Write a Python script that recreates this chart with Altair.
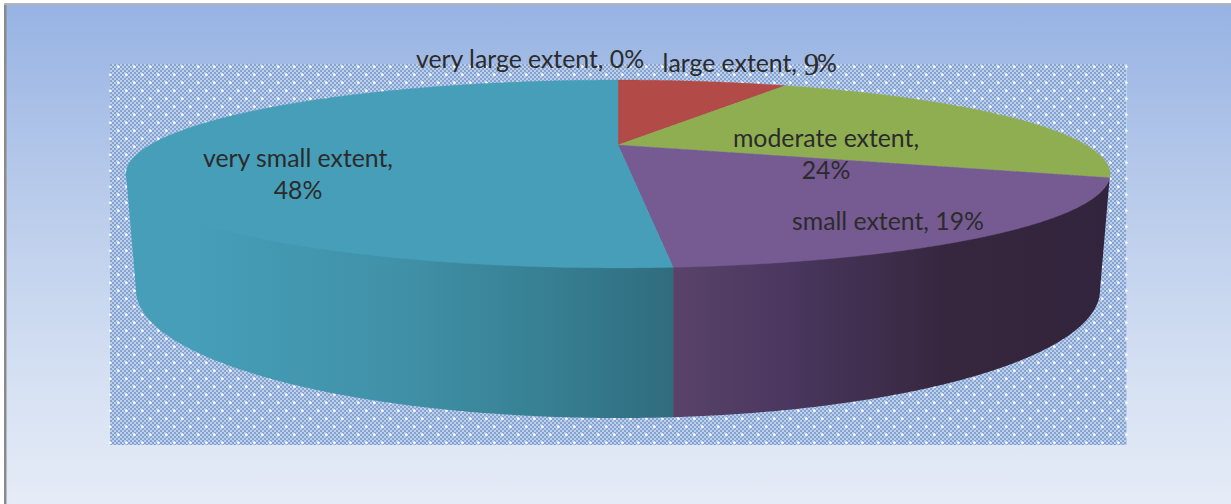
import numpy as np
import pandas as pd
import altair as alt

alt.data_transformers.disable_max_rows()

# Survey responses shown on the pie, clockwise from twelve o'clock
categories = ["very large extent", "large extent", "moderate extent", "small extent", "very small extent"]
shares = [0, 9, 24, 19, 48]
slice_colors = ["#4f81bd", "#b24a47", "#8fae51", "#765a92", "#469eb8"]

W, H = 1231, 504

# Tilted-disc geometry of the pie
CX, APEX_Y = 618.0, 145.0
TILT = 0.3085
RX, RY = 468.0, 85.0
SWEEP_BEND = (0.0461, -0.0184, 0.0156)
TOP_ELLIPSE = (618.0, 174.0, 492.0, 94.0)
TOP_UNDERLAP = (618.0, 174.0, 492.0, 90.0)
BOTTOM_ELLIPSE = (618.0, 290.0, 482.0, 128.0)


def rim_point(fraction):
    bend = sum(c * np.sin((i + 1) * np.pi * fraction) for i, c in enumerate(SWEEP_BEND))
    th = 2 * np.pi * (fraction - bend)
    den = 1 + TILT * np.cos(th)
    return CX + RX * np.sin(th) / den, APEX_Y - RY * np.cos(th) / den


def band(polygon, label):
    """Turn a polygon into x / y / y2 rows for an area mark."""
    pts = np.asarray(polygon, dtype=float)
    lo, hi = pts[:, 0].min() + 1e-4, pts[:, 0].max() - 1e-4
    xs = np.concatenate([pts[:, 0] - 1e-3, pts[:, 0] + 1e-3, [lo, hi]])
    xs = np.unique(np.clip(xs, lo, hi))
    nxt = np.roll(pts, -1, axis=0)
    rows = []
    for x in xs:
        hit = ((pts[:, 0] <= x) & (x < nxt[:, 0])) | ((nxt[:, 0] <= x) & (x < pts[:, 0]))
        if not hit.any():
            continue
        a, b = pts[hit], nxt[hit]
        ys = a[:, 1] + (x - a[:, 0]) * (b[:, 1] - a[:, 1]) / (b[:, 0] - a[:, 0])
        rows.append({"x": x, "y": ys.min(), "y2": ys.max(), "category": label})
    return rows


def lower_arc(ellipse, x_from, x_to, n=260):
    cx, cy, a, b = ellipse
    p0 = np.arccos(np.clip((x_from - cx) / a, -1, 1))
    p1 = np.arccos(np.clip((x_to - cx) / a, -1, 1))
    phi = np.linspace(p0, p1, n)
    return np.column_stack([cx + a * np.cos(phi), cy + b * np.sin(phi)])


# Upper face: one wedge per non-empty category
edges = np.cumsum([0] + shares) / sum(shares)
face_rows = []
for name, start, stop in zip(categories, edges[:-1], edges[1:]):
    if stop > start:
        rim = [rim_point(f) for f in np.linspace(start, stop, 260)]
        face_rows += band([(CX, APEX_Y)] + rim, name)
face = pd.DataFrame(face_rows)

# Outer wall: front part of the disc, split where the last two wedges meet.
# Its upper edge runs slightly under the face so no seam shows between them.
split_x = rim_point(edges[4])[0]
t_cx, t_a = TOP_ELLIPSE[0], TOP_ELLIPSE[2]
b_cx, b_a = BOTTOM_ELLIPSE[0], BOTTOM_ELLIPSE[2]
wall_left = pd.DataFrame(band(np.vstack([
    lower_arc(TOP_UNDERLAP, t_cx - t_a, split_x),
    lower_arc(BOTTOM_ELLIPSE, split_x, b_cx - b_a),
]), "very small extent"))
wall_right = pd.DataFrame(band(np.vstack([
    lower_arc(TOP_UNDERLAP, split_x, t_cx + t_a),
    lower_arc(BOTTOM_ELLIPSE, b_cx + b_a, split_x),
]), "small extent"))

# Speckled plot-area texture
PLOT_X0, PLOT_X1, PLOT_Y0, PLOT_Y1 = 110, 1127, 64, 445
even_cols = pd.DataFrame({"x": np.arange(PLOT_X0 + 1, PLOT_X1, 4), "y": PLOT_Y0, "y2": PLOT_Y1})
odd_cols = pd.DataFrame({"x": np.arange(PLOT_X0 + 3, PLOT_X1, 4), "y": PLOT_Y0, "y2": PLOT_Y1})
spark_rows = []
for r, sy in enumerate(np.arange(66.7, PLOT_Y1, 8.0)):
    start = 118.3 if r % 2 == 0 else 110.3
    for sx in np.arange(start, PLOT_X1, 16.0):
        spark_rows.append({"x": sx, "y": sy})
sparks = pd.DataFrame(spark_rows)

x_enc = alt.X("x:Q", axis=None, scale=alt.Scale(domain=[0, W], nice=False, zero=False))
y_enc = alt.Y("y:Q", axis=None, scale=alt.Scale(domain=[H, 0], nice=False, zero=False))


def h_gradient(stops):
    return alt.Gradient(
        gradient="linear", x1=0, x2=1, y1=0, y2=0,
        stops=[alt.GradientStop(color=c, offset=o) for o, c in stops],
    )


def box(x, x2, y, y2, fill):
    frame = pd.DataFrame({"x": [x], "x2": [x2], "y": [y], "y2": [y2]})
    return alt.Chart(frame).mark_rect(fill=fill).encode(x_enc, alt.X2("x2:Q"), y_enc, alt.Y2("y2:Q"))


page_fill = alt.Gradient(
    gradient="linear", x1=0, x2=0, y1=0, y2=1,
    stops=[
        alt.GradientStop(color="#97b3e3", offset=0),
        alt.GradientStop(color="#b9cbeb", offset=0.38),
        alt.GradientStop(color="#d3dff2", offset=0.72),
        alt.GradientStop(color="#e6ecf7", offset=1),
    ],
)

layers = [
    box(6, W, 5, H, page_fill),
    box(4, 6.5, 3, H, "#8a8a8a"),
    box(4, W, 3, 5, "#b4b4b4"),
    box(PLOT_X0, PLOT_X1, PLOT_Y0, PLOT_Y1, "#bcd0ec"),
    alt.Chart(even_cols).mark_rule(stroke="#86a2cf", strokeWidth=2, strokeDash=[2, 2]).encode(x_enc, y_enc, alt.Y2("y2:Q")),
    alt.Chart(odd_cols).mark_rule(stroke="#86a2cf", strokeWidth=2, strokeDash=[2, 2], strokeDashOffset=2).encode(x_enc, y_enc, alt.Y2("y2:Q")),
    alt.Chart(sparks).mark_point(shape="diamond", filled=True, fill="#ffffff", size=12, opacity=0.95, strokeWidth=0).encode(x_enc, y_enc),
    alt.Chart(wall_left).mark_area(
        fill=h_gradient([(0, "#469eb8"), (0.12, "#469eb8"), (0.5, "#4091a8"), (0.8, "#367d90"), (1, "#2f6c7e")])
    ).encode(x_enc, y_enc, alt.Y2("y2:Q")),
    alt.Chart(wall_right).mark_area(
        fill=h_gradient([(0, "#594369"), (0.25, "#4b3760"), (0.62, "#36273f"), (1, "#32243c")])
    ).encode(x_enc, y_enc, alt.Y2("y2:Q")),
    alt.Chart(face).mark_area(strokeWidth=0.4).encode(
        x_enc, y_enc, alt.Y2("y2:Q"),
        color=alt.Color("category:N", legend=None, scale=alt.Scale(domain=categories, range=slice_colors)),
        stroke=alt.Stroke("category:N", legend=None, scale=alt.Scale(domain=categories, range=slice_colors)),
    ),
]

# Data labels, built from the same shares the wedges use
label_x = [530, None, 826, 888, 298]
label_y = [61, None, 140, 223, 160]
labels = pd.DataFrame([
    {"x": lx, "y": ly, "label": f"{c},{sep}{s}%"}
    for c, s, lx, ly, sep in zip(categories, shares, label_x, label_y, [" ", " ", "\n", " ", "\n"])
    if lx is not None
])
TEXT = dict(font="Lato", fontSize=24.8, color="#2b2b2b")
layers.append(
    alt.Chart(labels).mark_text(lineBreak="\n", lineHeight=32, align="center", baseline="middle", **TEXT)
    .encode(x_enc, y_enc, text="label:N")
)

# The "large extent" label has a numeral set in a serif face
large_value = f"{shares[1]}"
layers.append(
    alt.Chart(pd.DataFrame({"x": [797], "y": [65], "t": [f"{categories[1]},"]}))
    .mark_text(align="right", baseline="middle", **TEXT).encode(x_enc, y_enc, text="t:N")
)
layers.append(
    alt.Chart(pd.DataFrame({"x": [811.5], "y": [66], "t": [large_value]}))
    .mark_text(align="center", baseline="middle", font="Liberation Serif", fontSize=31, color="#2b2b2b")
    .encode(x_enc, y_enc, text="t:N")
)
layers.append(
    alt.Chart(pd.DataFrame({"x": [817], "y": [65], "t": ["%"]}))
    .mark_text(align="left", baseline="middle", **TEXT).encode(x_enc, y_enc, text="t:N")
)

chart = (
    alt.layer(*layers)
    .properties(width=W, height=H, padding=0, background="#ffffff",
                autosize=alt.AutoSizeParams(type="none"))
    .configure_view(strokeWidth=0)
)

chart.save("out.html", embed_options={"renderer": "svg", "actions": False})
